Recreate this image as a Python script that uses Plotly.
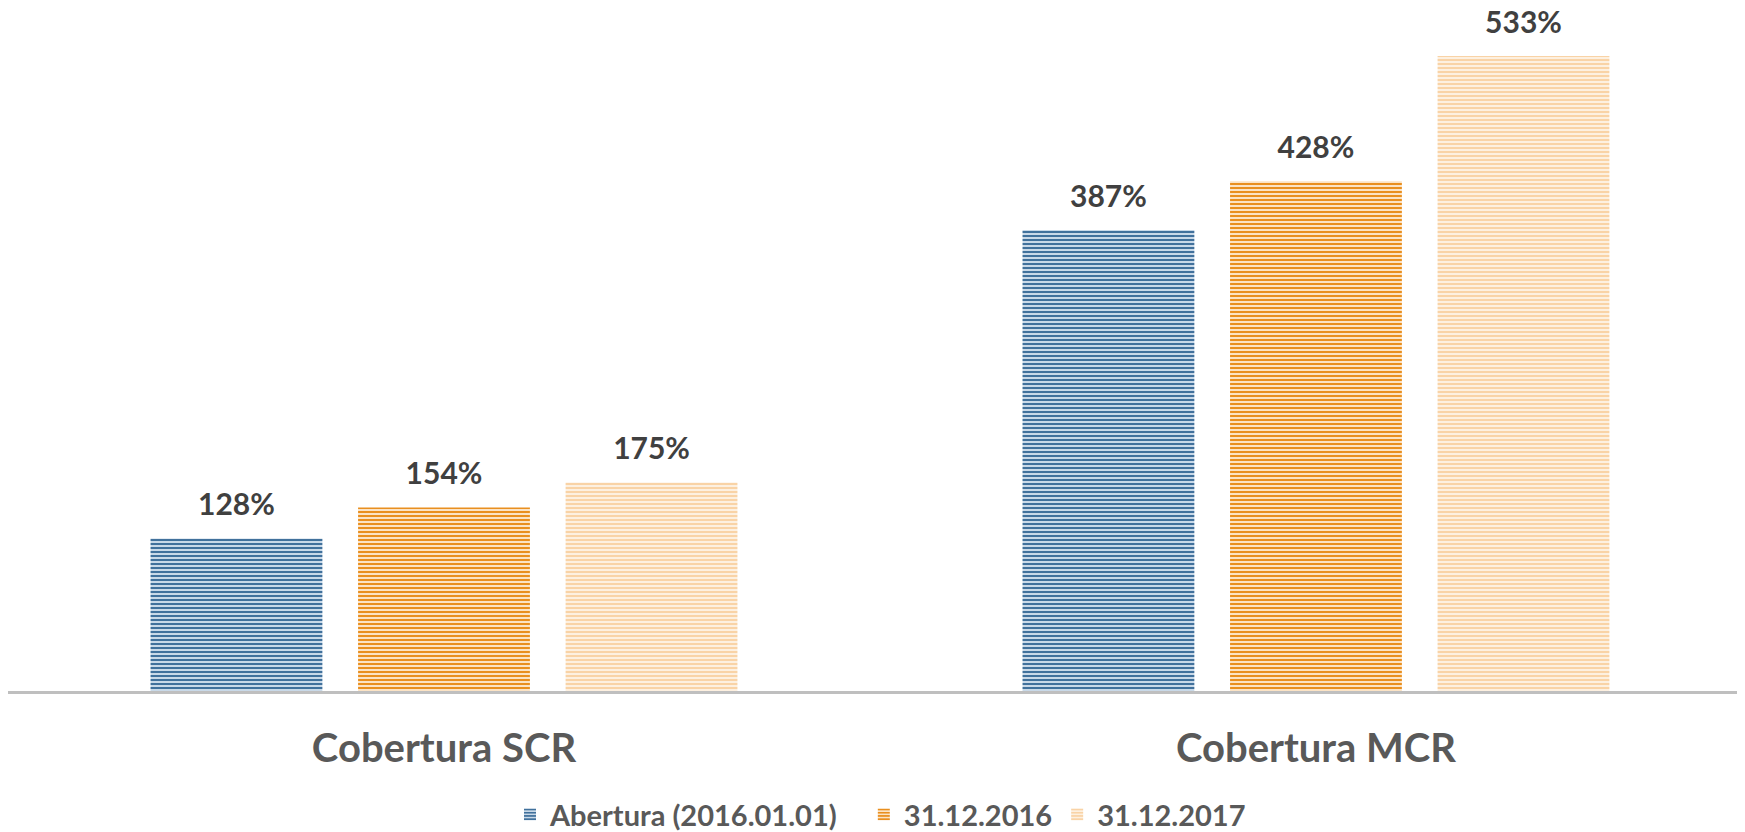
import plotly.graph_objects as go

categories = ["Cobertura SCR", "Cobertura MCR"]
series_names = ["Abertura (2016.01.01)", "31.12.2016", "31.12.2017"]
abertura = [128, 387]
dez_2016 = [154, 428]
dez_2017 = [175, 533]

# (stripe colour, background colour) per series
colours = [
    ("#41719c", "#c9d9e8"),
    ("#e98f1f", "#fbe3c5"),
    ("#f9d3a6", "#fdf0e0"),
]

label_pad = 12  # gap between bar top and its label, in data units
legend_gaps = [3, 0, 0]  # extra non-breaking spaces after each legend entry

fig = go.Figure()
for i, (name, values) in enumerate(zip(series_names, [abertura, dez_2016, dez_2017])):
    fg, bg = colours[i]
    fig.add_trace(go.Bar(
        x=categories,
        y=values,
        name=name + "\u00a0" * legend_gaps[i],
        offsetgroup=str(i),
        marker=dict(
            color=bg,
            line=dict(width=0),
            pattern=dict(shape="-", size=4, solidity=0.5, fgcolor=fg, bgcolor=bg, fillmode="replace"),
        ),
        hovertemplate="%{x}<br>" + name + ": %{y}%<extra></extra>",
    ))
    # invisible bar sitting on top of the real one, only to carry the label
    fig.add_trace(go.Bar(
        x=categories,
        y=[label_pad] * len(values),
        base=values,
        offsetgroup=str(i),
        marker=dict(color="rgba(0,0,0,0)", line=dict(width=0)),
        text=[f"{v}%" for v in values],
        textposition="outside",
        textfont=dict(family="Lato", size=30, color="#404040", weight=700),
        cliponaxis=False,
        showlegend=False,
        hoverinfo="skip",
    ))

fig.update_layout(
    width=1745,
    height=832,
    margin=dict(l=0, r=0, t=10, b=138),
    paper_bgcolor="white",
    plot_bgcolor="white",
    barmode="group",
    bargap=0.286,
    bargroupgap=0.172,
    font=dict(family="Lato", color="#595959"),
    xaxis=dict(
        range=[-0.5, 1.5012],
        showline=True,
        linecolor="#bfbfbf",
        linewidth=3,
        showgrid=False,
        ticks="",
        ticklabelstandoff=20,
        tickfont=dict(family="Lato", size=40, color="#595959", weight=700),
    ),
    yaxis=dict(
        range=[0, 565],
        visible=False,
        showgrid=False,
    ),
    legend=dict(
        orientation="h",
        x=0.5,
        xanchor="center",
        y=-0.184,
        yanchor="middle",
        font=dict(family="Lato", size=29, color="#595959", weight=700),
    ),
)

fig.write_html("out.html")
